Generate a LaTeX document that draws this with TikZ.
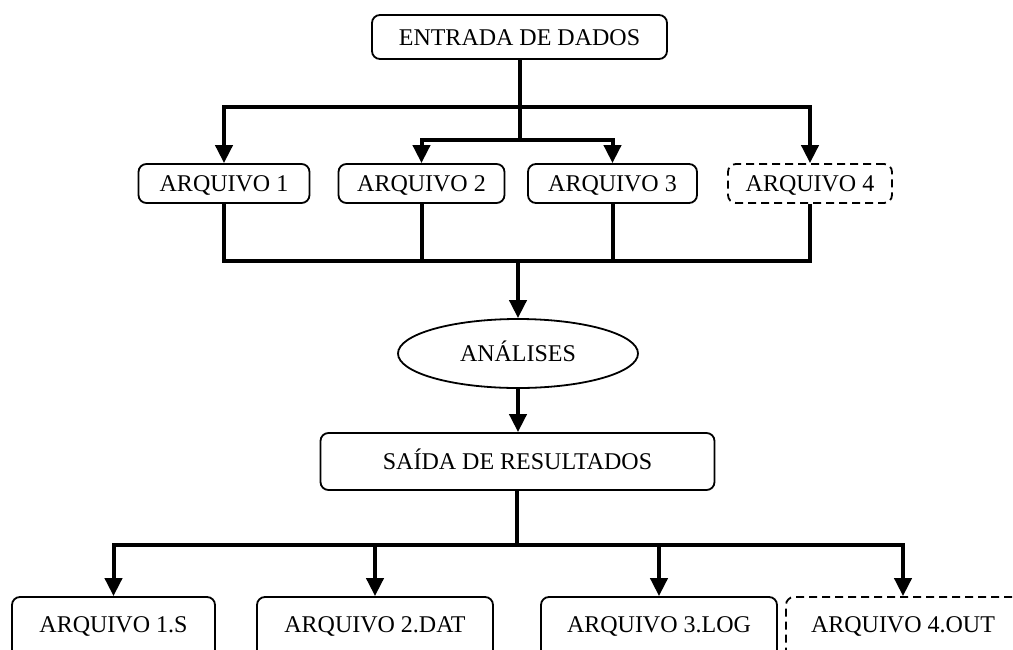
\documentclass[tikz,border=0pt]{standalone}
\usepackage{fontspec}
\setmainfont{Liberation Serif}
\usetikzlibrary{arrows.meta,shapes.geometric}

\tikzset{
  box/.style={draw, line width=1.8pt, rounded corners=8pt, inner sep=0pt,
    text height=16pt, text depth=0pt, align=center},
  optbox/.style={box, dashed, dash pattern=on 8pt off 5pt},
  lowbox/.style={text depth=10pt},
  oval/.style={draw, ellipse, line width=1.8pt, inner sep=0pt,
    text height=16pt, text depth=0pt},
  conn/.style={line width=4pt, line join=miter},
  arr/.style={conn, -{Triangle[length=18pt,width=17pt]}},
}

\begin{document}
\begin{tikzpicture}[x=1pt, y=-1pt, font=\fontsize{24}{28}\selectfont]
  \useasboundingbox (0,0) rectangle (1013,649);
  \clip (0,0) rectangle (1013,649);

  % input
  \node[box, minimum width=295pt, minimum height=44pt] (in) at (519.5,37) {ENTRADA DE DADOS};

  % input files
  \node[box, minimum width=171pt, minimum height=39pt] (a1) at (224,183.5) {ARQUIVO 1};
  \node[box, minimum width=166pt, minimum height=39pt] (a2) at (421.5,183.5) {ARQUIVO 2};
  \node[box, minimum width=169pt, minimum height=39pt] (a3) at (612.5,183.5) {ARQUIVO 3};
  \node[optbox, minimum width=164pt, minimum height=39pt] (a4) at (810,183.5) {ARQUIVO 4};

  % analysis
  \node[oval, minimum width=240pt, minimum height=69pt] (an) at (518,353.5) {ANÁLISES};

  % output
  \node[box, minimum width=394pt, minimum height=57pt] (out) at (517.5,461.5) {SAÍDA DE RESULTADOS};

  % output files (their lower edges run past the page)
  \node[box, lowbox, minimum width=203pt, minimum height=64pt] (b1) at (113.5,629) {ARQUIVO 1.S};
  \node[box, lowbox, minimum width=236pt, minimum height=64pt] (b2) at (375,629) {ARQUIVO 2.DAT};
  \node[box, lowbox, minimum width=236pt, minimum height=64pt] (b3) at (659,629) {ARQUIVO 3.LOG};
  \node[optbox, lowbox, minimum width=234pt, minimum height=64pt] (b4) at (903,629) {ARQUIVO 4.OUT};

  % junctions
  \coordinate (j1) at (520,107);
  \coordinate (j2) at (520,140);
  \coordinate (j3) at (518,261);
  \coordinate (j4) at (517,545);

  % input distribution
  \draw[conn] (in.south -| j1) -- (j1);
  \draw[arr] (j1) -| (a1.north);
  \draw[arr] (j1) -| (a4.north);
  \draw[conn] (j1) -- (j2);
  \draw[arr] (j2) -| (a2.north);
  \draw[arr] (j2) -| (a3.north);

  % collection into analysis
  \draw[conn] (a1.south) |- (j3);
  \draw[conn] (a2.south) |- (j3);
  \draw[conn] (a3.south) |- (j3);
  \draw[conn] (a4.south) |- (j3);
  \draw[arr] (j3) -- (an.north);
  \draw[arr] (an.south) -- (out.north -| an.south);

  % output distribution
  \draw[conn] (out.south -| j4) -- (j4);
  \draw[arr] (j4) -| (b1.north);
  \draw[arr] (j4) -| (b2.north);
  \draw[arr] (j4) -| (b3.north);
  \draw[arr] (j4) -| (b4.north);
\end{tikzpicture}
\end{document}
